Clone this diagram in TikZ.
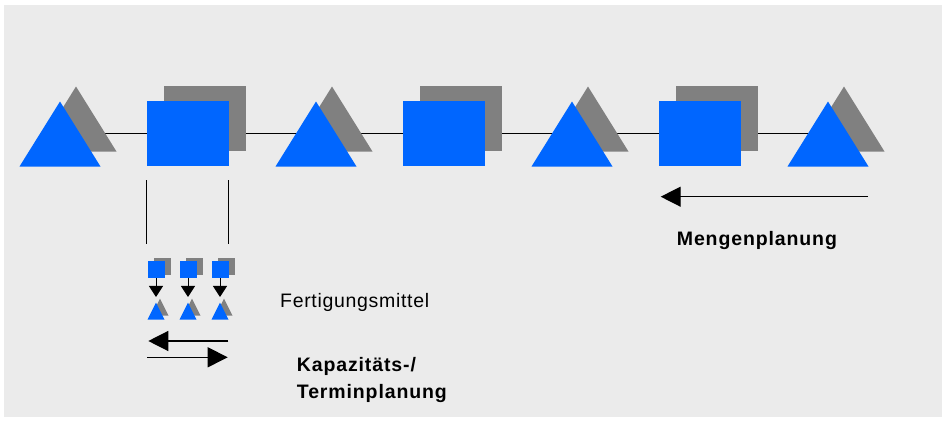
\documentclass[tikz,border=0pt]{standalone}
\usepackage{fontspec}
\setmainfont{Liberation Sans}
\usepackage{tikz}
\usetikzlibrary{shapes.geometric,shadows,arrows.meta,backgrounds,positioning}

\definecolor{sapblue}{RGB}{0,102,255}
\definecolor{schatten}{RGB}{128,128,128}
\definecolor{flaeche}{RGB}{235,235,235}

\begin{document}
\begin{tikzpicture}[x=1pt,y=1pt]
		\tikzstyle{lager}=[isosceles triangle, shape border rotate=90, isosceles triangle stretches, minimum width=81pt, minimum height=65pt, inner sep=0pt, anchor=apex, fill=sapblue, copy shadow={shadow xshift=16pt, shadow yshift=15pt, fill=schatten, draw=none}]
		\tikzstyle{platz}=[rectangle, minimum width=82pt, minimum height=65pt, inner sep=0pt, fill=sapblue, copy shadow={shadow xshift=17pt, shadow yshift=15pt, fill=schatten, draw=none}]
		\tikzstyle{klplatz}=[rectangle, minimum size=17pt, inner sep=0pt, fill=sapblue, copy shadow={shadow xshift=6pt, shadow yshift=3pt, fill=schatten, draw=none}]
		\tikzstyle{kllager}=[isosceles triangle, shape border rotate=90, isosceles triangle stretches, minimum width=17pt, minimum height=17pt, inner sep=0pt, anchor=apex, fill=sapblue, copy shadow={shadow xshift=4pt, shadow yshift=4pt, fill=schatten, draw=none}]
		\tikzstyle{pfeil}=[-{Triangle[length=20pt,width=20pt]}, line width=1.3pt]
		\tikzstyle{klpfeil}=[-{Triangle[length=11pt,width=14pt]}, line width=0.9pt, shorten >=5pt]
		\tikzstyle{txt}=[inner sep=0pt, anchor=base west, font=\fontsize{19.5}{26.6}\selectfont]
		\useasboundingbox (0,0) rectangle (946,421);
		% Kette: Lager und Arbeitsplaetze
		\node[lager] (l1) at (60,320) {};
		\node[platz] (a1) at (188,287.5) {};
		\node[lager] (l2) at (316,320) {};
		\node[platz] (a2) at (444,287.5) {};
		\node[lager] (l3) at (572,320) {};
		\node[platz] (a3) at (700,287.5) {};
		\node[lager] (l4) at (828,320) {};
		% Fertigungsmittel unter dem ersten Arbeitsplatz
		\node[klplatz] (s1) at (156,151.5) {};
		\node[klplatz] (s2) at (188,151.5) {};
		\node[klplatz] (s3) at (220,151.5) {};
		\node[kllager] (k1) at (156,119) {};
		\node[kllager] (k2) at (188,119) {};
		\node[kllager] (k3) at (220,119) {};
		\path (s1) edge [klpfeil] (k1)
		(s2) edge [klpfeil] (k2)
		(s3) edge [klpfeil] (k3);
		\coordinate (v1) at ([yshift=-14pt]a1.south west);
		\coordinate (v2) at ([xshift=-1pt,yshift=-14pt]a1.south east);
		\draw[line width=0.9pt] (v1) -- ++(0,-64);
		\draw[line width=0.9pt] (v2) -- ++(0,-64);
		\coordinate (z1) at (228.3,80);
		\coordinate (z2) at (148.3,80);
		\coordinate (z3) at (147,63.7);
		\coordinate (z4) at (227.7,63.7);
		\draw[pfeil] (z1) -- (z2);
		\draw[pfeil] (z3) -- (z4);
		\coordinate (m1) at (868,224.3);
		\coordinate (m2) at (660.7,224.3);
		\draw[pfeil] (m1) -- (m2);
		\node[txt] (fm) at (280,113.7) {\addfontfeature{LetterSpace=3.5}Fertigungsmittel};
		\node[txt, font=\fontsize{19.5}{26.6}\selectfont\bfseries] (mp) at (676.7,175) {\addfontfeature{LetterSpace=4.5}Mengenplanung};
		\node[txt, font=\fontsize{19.5}{26.6}\selectfont\bfseries] (kp) at (296.7,49.3) {\addfontfeature{LetterSpace=4.5}Kapazit\"ats-/};
		\node[txt, font=\fontsize{19.5}{26.6}\selectfont\bfseries] (tp) at (296.7,22.7) {\addfontfeature{LetterSpace=4.5}Terminplanung};
		\begin{scope}[on background layer]
			\fill[white] (0,0) rectangle (946,421);
			\fill[flaeche] (4,4) rectangle (942,416);
			\draw[line width=1.3pt] (l1.apex |- a1) -- (l4.apex |- a1);
		\end{scope}
\end{tikzpicture}
\end{document}
